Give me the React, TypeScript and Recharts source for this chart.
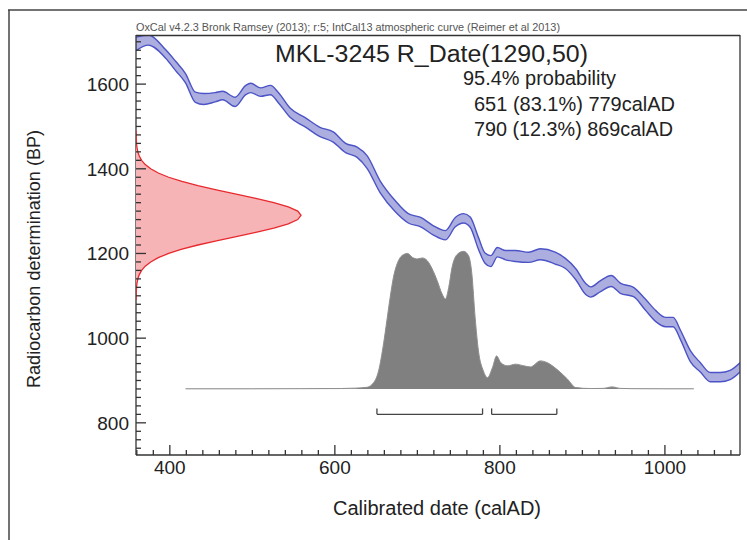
import React from 'react';
import { ComposedChart, Area, Scatter, XAxis, YAxis, ReferenceLine } from 'recharts';

// IntCal13 curve (centre and half-width in BP)
const calYear = [359, 374, 395, 407, 419, 431, 441, 455, 464, 479, 492, 498, 510, 522, 532, 546, 564, 582, 598, 613,
  627, 639, 655, 673, 689, 704, 719, 734, 746, 756, 764, 774, 782, 789, 797, 807, 819, 835, 849, 867,
  879, 892, 904, 910, 922, 935, 946, 962, 976, 989, 1001, 1010, 1019, 1031, 1043, 1055, 1067, 1079, 1091];
const calBP = [1695, 1704, 1671, 1643, 1614, 1569, 1565, 1569, 1573, 1558, 1586, 1591, 1581, 1586, 1567, 1532, 1510, 1487, 1475, 1449,
  1439, 1416, 1357, 1312, 1283, 1274, 1255, 1243, 1274, 1283, 1274, 1224, 1189, 1182, 1203, 1196, 1194, 1191, 1198, 1189,
  1177, 1151, 1116, 1109, 1123, 1135, 1118, 1109, 1080, 1052, 1038, 1038, 1007, 957, 931, 908, 908, 913, 931];
const calErr = [16, 12, 10, 11, 11, 12, 13, 11, 10, 11, 11, 11, 10, 11, 12, 11, 11, 11, 12, 11,
  12, 15, 14, 13, 11, 11, 11, 11, 11, 11, 12, 14, 12, 13, 11, 11, 13, 12, 13, 14,
  12, 13, 13, 12, 13, 13, 12, 11, 13, 13, 11, 11, 11, 13, 11, 11, 11, 11, 11];

// calibrated probability (relative to the highest point)
const probYear = [419, 500, 560, 607, 625, 639, 647, 653, 659, 663, 667, 671, 677, 683, 688, 694, 700, 706, 712, 718,
  724, 730, 734, 738, 742, 748, 756, 762, 766, 770, 774, 780, 785, 791, 796, 801, 809, 819, 829, 837,
  849, 857, 869, 882, 892, 910, 925, 936, 946, 960, 1000, 1035];
const probValue = [0.001, 0.001, 0.002, 0.003, 0.006, 0.012, 0.046, 0.131, 0.328, 0.495, 0.665, 0.811, 0.932, 0.976, 0.985, 0.956, 0.945, 0.952, 0.932, 0.872,
  0.787, 0.69, 0.653, 0.738, 0.883, 0.976, 1, 0.969, 0.838, 0.519, 0.277, 0.131, 0.082, 0.155, 0.24, 0.192, 0.168, 0.18, 0.168, 0.16,
  0.204, 0.192, 0.143, 0.071, 0.01, 0.003, 0.004, 0.015, 0.004, 0.002, 0.001, 0.001];

// R_Date(1290,50) drawn against the radiocarbon axis
const dateBP = [1090, 1100, 1110, 1120, 1130, 1140, 1150, 1160, 1170, 1180, 1190, 1200, 1210, 1220, 1230, 1240, 1250, 1260, 1270, 1280,
  1290, 1300, 1310, 1320, 1330, 1340, 1350, 1360, 1370, 1380, 1390, 1400, 1410, 1420, 1430, 1440, 1450, 1460, 1470, 1480, 1490];
const dateDensity = [0, 0.001, 0.002, 0.003, 0.006, 0.011, 0.02, 0.034, 0.056, 0.089, 0.135, 0.198, 0.278, 0.375, 0.487, 0.607, 0.726, 0.835, 0.923, 0.98,
  1, 0.98, 0.923, 0.835, 0.726, 0.607, 0.487, 0.375, 0.278, 0.198, 0.135, 0.089, 0.056, 0.034, 0.02, 0.011, 0.006, 0.003, 0.002, 0.001, 0];

// 95.4% ranges
const rangeFrom = [651, 790];
const rangeTo = [779, 869];

const xMajor = [400, 600, 800, 1000];
const yMajor = [800, 1000, 1200, 1400, 1600];

const X_DOMAIN = [359, 1091];
const Y_DOMAIN = [724, 1716];
const PROB_BASE = 880;
const PROB_SPAN = 325;
const DENS_SPAN = 200;
const RANGE_BP = 820;
const RANGE_TICK = 834;

const bandData = calYear.map((year, i) => ({ year, band: [calBP[i] - calErr[i], calBP[i] + calErr[i]] }));
const probData = probYear.map((year, i) => ({ year, p: probValue[i] }));
const dateData = dateBP.map((bp, i) => ({ d: dateDensity[i], bp }));

const xTicks: number[] = [];
for (let v = 360; v <= 1080; v += 20) xTicks.push(v);
const yTicks: number[] = [];
for (let v = 740; v <= 1700; v += 20) yTicks.push(v);

const FONT = '"Liberation Sans", Arial, sans-serif';
const INK = '#222';
const AXIS = '#333';

const XTick = (props: any) => {
  const { x, y, payload } = props;
  const major = xMajor.includes(payload.value);
  return (
    <g>
      <line x1={x} x2={x} y1={y} y2={y - (major ? 10 : 5)} stroke={AXIS} strokeWidth={1.3} />
      {major && (
        <text x={x} y={y + 19} textAnchor="middle" fontSize={19} fontFamily={FONT} fill={INK}>
          {payload.value}
        </text>
      )}
    </g>
  );
};

const YTick = (props: any) => {
  const { x, y, payload } = props;
  const major = yMajor.includes(payload.value);
  return (
    <g>
      <line x1={x} x2={x + (major ? 10 : 5)} y1={y} y2={y} stroke={AXIS} strokeWidth={1.3} />
      {major && (
        <text x={x - 7} y={y + 7} textAnchor="end" fontSize={19} fontFamily={FONT} fill={INK}>
          {payload.value}
        </text>
      )}
    </g>
  );
};

export default function App() {
  const brackets: React.ReactElement[] = [];
  rangeFrom.forEach((from, i) => {
    const to = rangeTo[i];
    brackets.push(
      <ReferenceLine key={`h${i}`} segment={[{ x: from, y: RANGE_BP }, { x: to, y: RANGE_BP }]} stroke="#444" strokeWidth={1.3} />,
      <ReferenceLine key={`l${i}`} segment={[{ x: from, y: RANGE_BP }, { x: from, y: RANGE_TICK }]} stroke="#444" strokeWidth={1.3} />,
      <ReferenceLine key={`r${i}`} segment={[{ x: to, y: RANGE_BP }, { x: to, y: RANGE_TICK }]} stroke="#444" strokeWidth={1.3} />
    );
  });

  return (
    <div style={{ position: 'absolute', left: 0, top: 0, width: 747, height: 540, background: '#fff' }}>
      <ComposedChart width={747} height={540} margin={{ top: 35, right: 7, bottom: 45, left: 76 }}>
        <XAxis
          dataKey="year"
          type="number"
          domain={X_DOMAIN}
          allowDataOverflow
          ticks={xTicks}
          interval={0}
          tick={<XTick />}
          tickLine={false}
          tickSize={0}
          tickMargin={0}
          height={40}
          axisLine={{ stroke: AXIS, strokeWidth: 1.3 }}
        />
        <XAxis
          xAxisId="dens"
          dataKey="d"
          type="number"
          hide
          domain={[0, (X_DOMAIN[1] - X_DOMAIN[0]) / DENS_SPAN]}
          allowDataOverflow
        />
        <YAxis
          type="number"
          domain={Y_DOMAIN}
          allowDataOverflow
          ticks={yTicks}
          interval={0}
          tick={<YTick />}
          tickLine={false}
          tickSize={0}
          tickMargin={0}
          width={60}
          axisLine={{ stroke: AXIS, strokeWidth: 1.3 }}
        />
        <YAxis
          yAxisId="prob"
          type="number"
          hide
          domain={[(Y_DOMAIN[0] - PROB_BASE) / PROB_SPAN, (Y_DOMAIN[1] - PROB_BASE) / PROB_SPAN]}
          allowDataOverflow
        />
        <Scatter
          xAxisId="dens"
          data={dateData}
          dataKey="bp"
          fill="#f6b4b6"
          line={{ stroke: '#e8282d', fill: '#f6b4b6', strokeWidth: 1.3 }}
          lineType="joint"
          shape={() => <g />}
          isAnimationActive={false}
        />
        <Area
          data={probData}
          dataKey="p"
          yAxisId="prob"
          baseValue={0}
          type="monotone"
          fill="#808080"
          fillOpacity={1}
          stroke="#8e8e8e"
          strokeWidth={1}
          dot={false}
          activeDot={false}
          isAnimationActive={false}
        />
        <Area
          data={bandData}
          dataKey="band"
          type="monotone"
          fill="#adaee0"
          fillOpacity={1}
          stroke="#4b53c6"
          strokeWidth={1.4}
          dot={false}
          activeDot={false}
          isAnimationActive={false}
        />
        {brackets}
      </ComposedChart>
      <svg
        width={747}
        height={540}
        style={{ position: 'absolute', left: 0, top: 0, pointerEvents: 'none' }}
        fontFamily={FONT}
      >
        <line x1={8} x2={747} y1={10} y2={10} stroke="#444" strokeWidth={1.5} />
        <line x1={9} x2={9} y1={10} y2={540} stroke="#444" strokeWidth={1.5} />
        <line x1={136} x2={740} y1={35.5} y2={35.5} stroke={AXIS} strokeWidth={1.3} />
        <line x1={740} x2={740} y1={35} y2={455} stroke={AXIS} strokeWidth={1.3} />
        <text x={136} y={31} fontSize={11} fill="#555" textLength={424} lengthAdjust="spacingAndGlyphs">
          OxCal v4.2.3 Bronk Ramsey (2013); r:5; IntCal13 atmospheric curve (Reimer et al 2013)
        </text>
        <text x={275} y={62} fontSize={23} fill={INK} textLength={313} lengthAdjust="spacingAndGlyphs">
          MKL-3245 R_Date(1290,50)
        </text>
        <text x={463} y={85} fontSize={20.5} fill={INK} textLength={153} lengthAdjust="spacingAndGlyphs">
          95.4% probability
        </text>
        <text x={474} y={111} fontSize={20.5} fill={INK} textLength={201} lengthAdjust="spacingAndGlyphs">
          651 (83.1%) 779calAD
        </text>
        <text x={474} y={136} fontSize={20.5} fill={INK} textLength={199} lengthAdjust="spacingAndGlyphs">
          790 (12.3%) 869calAD
        </text>
        <text x={437} y={515} fontSize={20} fill={INK} textAnchor="middle" textLength={208} lengthAdjust="spacingAndGlyphs">
          Calibrated date (calAD)
        </text>
        <text
          x={40}
          y={259}
          fontSize={19}
          fill={INK}
          textAnchor="middle"
          transform="rotate(-90 40 259)"
          textLength={258}
          lengthAdjust="spacingAndGlyphs"
        >
          Radiocarbon determination (BP)
        </text>
      </svg>
    </div>
  );
}
